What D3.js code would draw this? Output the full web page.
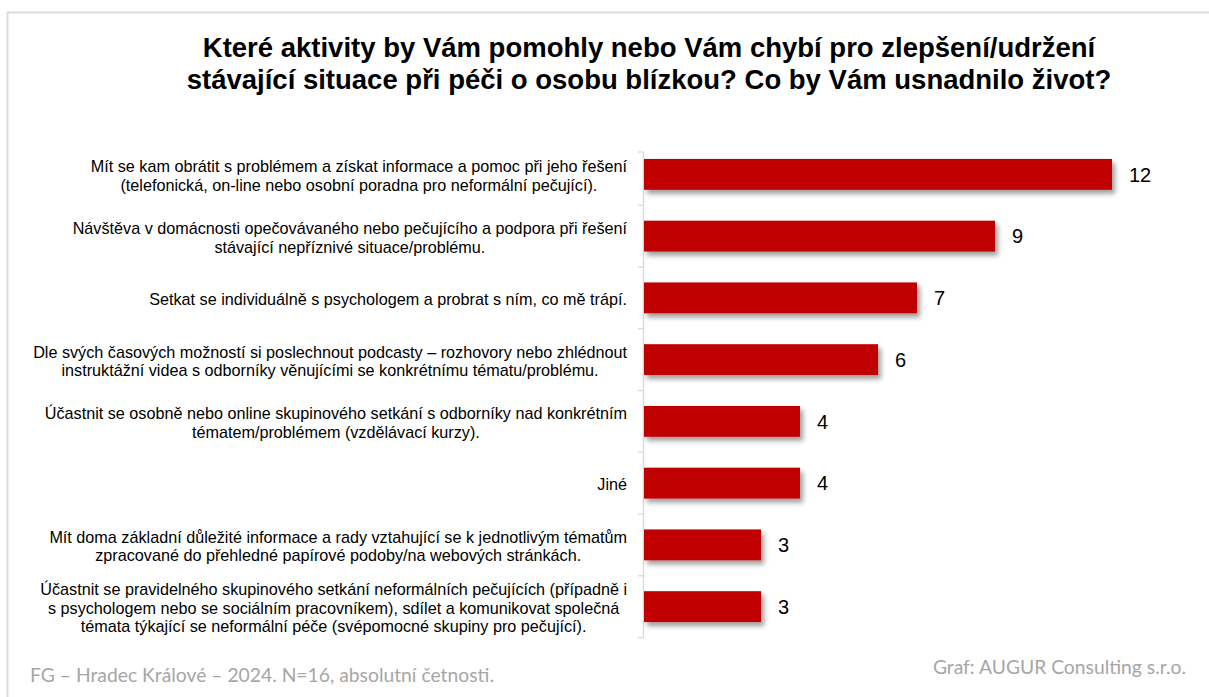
<!DOCTYPE html>
<html>
<head>
<meta charset="utf-8">
<script src="https://cdn.jsdelivr.net/npm/d3@7"></script>
<style>
  html, body { margin: 0; padding: 0; background: #fff; }
  svg { display: block; }
</style>
</head>
<body>
<svg id="chart" width="1209" height="697"></svg>
<script>
// Activity categories (each entry is a list of label lines)
const categories = [
  ["Mít se kam obrátit s problémem a získat informace a pomoc při jeho řešení",
   "(telefonická, on-line nebo osobní poradna pro neformální pečující)."],
  ["Návštěva v domácnosti opečovávaného nebo pečujícího a podpora při řešení",
   "stávající nepříznivé situace/problému."],
  ["Setkat se individuálně s psychologem a probrat s ním, co mě trápí."],
  ["Dle svých časových možností si poslechnout podcasty – rozhovory nebo zhlédnout",
   "instruktážní videa s odborníky věnujícími se konkrétnímu tématu/problému."],
  ["Účastnit se osobně nebo online skupinového setkání s odborníky nad konkrétním",
   "tématem/problémem (vzdělávací kurzy)."],
  ["Jiné"],
  ["Mít doma základní důležité informace a rady vztahující se k jednotlivým tématům",
   "zpracované do přehledné papírové podoby/na webových stránkách."],
  ["Účastnit se pravidelného skupinového setkání neformálních pečujících (případně i",
   "s psychologem nebo se sociálním pracovníkem), sdílet a komunikovat společná",
   "témata týkající se neformální péče (svépomocné skupiny pro pečující)."]
];
// Absolute counts per category
const counts = [12, 9, 7, 6, 4, 4, 3, 3];

const titleLines = [
  "Které aktivity by Vám pomohly nebo Vám chybí pro zlepšení/udržení",
  "stávající situace při péči o osobu blízkou? Co by Vám usnadnilo život?"
];
const sourceNote = "FG – Hradec Králové – 2024. N=16, absolutní četnosti.";
const creditNote = "Graf: AUGUR Consulting s.r.o.";

const svg = d3.select("#chart");

// Drop shadow for bars
const defs = svg.append("defs");
const f = defs.append("filter").attr("id", "barShadow")
  .attr("x", "-5%").attr("y", "-30%").attr("width", "115%").attr("height", "180%");
f.append("feDropShadow")
  .attr("dx", 3).attr("dy", 4).attr("stdDeviation", 2.5)
  .attr("flood-color", "#000").attr("flood-opacity", 0.38);

// Outer frame
svg.append("rect")
  .attr("x", 7.5).attr("y", 12.5).attr("width", 1230).attr("height", 720)
  .attr("fill", "none").attr("stroke", "#dcdcdc").attr("stroke-width", 2);

// Title
svg.append("text")
  .attr("x", 649).attr("y", 57)
  .attr("text-anchor", "middle")
  .attr("font-family", "Liberation Sans, Arial, sans-serif")
  .attr("font-weight", "bold").attr("font-size", 27.5).attr("fill", "#000")
  .selectAll("tspan").data(titleLines).join("tspan")
  .attr("x", 649).attr("dy", (d, i) => i === 0 ? 0 : 32)
  .text(d => d);

// Scales
const idx = d3.range(categories.length);
const y = d3.scaleBand().domain(idx).range([143.5, 637.5])
  .paddingInner(0.5).paddingOuter(0.25);
const x = d3.scaleLinear().domain([0, 12]).range([644, 1112]);

// Category axis: line with ticks at band boundaries
const axisG = svg.append("g").attr("stroke", "#d6d8de").attr("stroke-width", 1.3);
const step = y.step();
const r0 = y.range()[0];
const boundaries = d3.range(categories.length + 1).map(i => r0 + i * step);
const topY = boundaries[0] + 8.5;
axisG.append("line")
  .attr("x1", 643.5).attr("x2", 643.5)
  .attr("y1", topY).attr("y2", boundaries[boundaries.length - 1]);
axisG.selectAll("line.tick").data(boundaries).join("line")
  .attr("class", "tick")
  .attr("x1", 638).attr("x2", 643.5)
  .attr("y1", (d, i) => i === 0 ? topY : d)
  .attr("y2", (d, i) => i === 0 ? topY : d);

// Bars
svg.append("g").selectAll("rect").data(idx).join("rect")
  .attr("x", x(0))
  .attr("y", i => y(i))
  .attr("width", i => x(counts[i]) - x(0))
  .attr("height", y.bandwidth())
  .attr("fill", "#c00000")
  .attr("filter", "url(#barShadow)");

// Value labels
svg.append("g").selectAll("text").data(idx).join("text")
  .attr("x", i => x(counts[i]) + 17)
  .attr("y", i => y(i) + y.bandwidth() / 2)
  .attr("dy", "0.36em")
  .attr("font-family", "Liberation Sans, Arial, sans-serif")
  .attr("font-size", 20).attr("fill", "#000")
  .text(i => counts[i]);

// Category labels: each block centred on its own lines, block right-aligned
const labelRight = 627;
const lineH = 18.5;
const labelG = svg.append("g")
  .attr("font-family", "Liberation Sans, Arial, sans-serif")
  .attr("font-size", 16.2).attr("fill", "#000");
idx.forEach(i => {
  const lines = categories[i];
  const cy = y(i) + y.bandwidth() / 2 + 1.5;
  const t = labelG.append("text").attr("text-anchor", "middle");
  const spans = t.selectAll("tspan").data(lines).join("tspan")
    .attr("y", (d, k) => cy + (k - (lines.length - 1) / 2) * lineH)
    .attr("dy", "0.35em")
    .text(d => d);
  let maxW = 0;
  spans.each(function () { maxW = Math.max(maxW, this.getComputedTextLength()); });
  spans.attr("x", labelRight - maxW / 2);
});

// Footer notes
svg.append("text")
  .attr("x", 30).attr("y", 682)
  .attr("font-family", "Lato, Open Sans, sans-serif")
  .attr("font-size", 19.3).attr("fill", "#a6a6a6")
  .text(sourceNote);
svg.append("text")
  .attr("x", 1186).attr("y", 674)
  .attr("text-anchor", "end")
  .attr("font-family", "Lato, Open Sans, sans-serif")
  .attr("font-size", 19.3).attr("fill", "#a6a6a6")
  .text(creditNote);
</script>
</body>
</html>
